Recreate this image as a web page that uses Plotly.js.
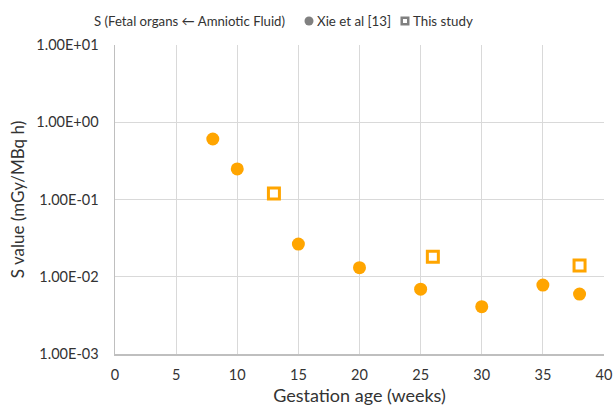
<!DOCTYPE html>
<html>
<head>
<meta charset="utf-8">
<script src="https://cdn.plot.ly/plotly-3.0.1.min.js"></script>
<style>html,body{margin:0;padding:0;background:#fff}#chart{width:616px;height:410px}</style>
</head>
<body>
<div id="chart"></div>
<script>
const xieWeeks = [8, 10, 15, 20, 25, 30, 35, 38];
const xieValues = [0.607, 0.249, 0.0265, 0.0131, 0.0069, 0.0041, 0.0078, 0.00596];
const studyWeeks = [13, 26, 38];
const studyValues = [0.12, 0.0181, 0.0140];
const yTickVals = [0.001, 0.01, 0.1, 1, 10];
const yTickText = ["1.00E-03", "1.00E-02", "1.00E-01", "1.00E+00", "1.00E+01"];
const xTickVals = [0, 5, 10, 15, 20, 25, 30, 35, 40];
const seriesNames = ["Xie et al [13]", "This study"];
const legendTitle = "S (Fetal organs \u2190 Amniotic Fluid)";

const orange = "#FFA500";
const legendGray = "#808080";
const textColor = "#333333";
const fontFam = "Lato, 'Open Sans', sans-serif";

const traces = [
  {x: xieWeeks, y: xieValues, type: "scatter", mode: "markers", name: seriesNames[0],
   marker: {symbol: "circle", size: 13, color: orange}},
  {x: studyWeeks, y: studyValues, type: "scatter", mode: "markers", name: seriesNames[1],
   marker: {symbol: "square-open", size: 11, color: orange, line: {width: 3, color: orange}}}
];

const legY = 1.0777;
const layout = {
  width: 616, height: 410,
  margin: {l: 115, r: 12, t: 45, b: 56},
  paper_bgcolor: "#fff", plot_bgcolor: "#fff",
  font: {family: fontFam, size: 13, color: textColor},
  showlegend: false,
  annotations: [
    {xref: "paper", yref: "paper", x: -0.047, y: legY, xanchor: "left", yanchor: "middle",
     text: legendTitle, showarrow: false, font: {family: fontFam, size: 13.2, color: textColor}},
    {xref: "paper", yref: "paper", x: 0.409, y: legY, xanchor: "left", yanchor: "middle",
     text: seriesNames[0], showarrow: false, font: {family: fontFam, size: 13.3, color: textColor}},
    {xref: "paper", yref: "paper", x: 0.6053, y: legY, xanchor: "left", yanchor: "middle",
     text: seriesNames[1], showarrow: false, font: {family: fontFam, size: 13.3, color: textColor}}
  ],
  shapes: [
    {type: "circle", xref: "paper", yref: "paper", xsizemode: "pixel", ysizemode: "pixel",
     xanchor: 0.3967, yanchor: legY, x0: -4.5, x1: 4.5, y0: -4.5, y1: 4.5,
     fillcolor: legendGray, line: {width: 0}},
    {type: "rect", xref: "paper", yref: "paper", xsizemode: "pixel", ysizemode: "pixel",
     xanchor: 0.5930, yanchor: legY, x0: -3.25, x1: 3.25, y0: -3.25, y1: 3.25,
     fillcolor: "#fff", line: {width: 2.5, color: legendGray}}
  ],
  xaxis: {
    range: [0, 40], tickvals: xTickVals, ticktext: xTickVals.map(String),
    showgrid: true, gridcolor: "#d9d9d9", gridwidth: 1,
    showline: true, linecolor: "#bfbfbf", linewidth: 1.5, zeroline: false,
    ticks: "", ticklabelstandoff: 7, tickfont: {family: fontFam, size: 14.5, color: textColor},
    title: {text: "Gestation age (weeks)", font: {family: fontFam, size: 18, color: textColor}, standoff: 7}
  },
  yaxis: {
    type: "log", range: [-3, 1], tickvals: yTickVals, ticktext: yTickText,
    showgrid: true, gridcolor: "#d9d9d9", gridwidth: 1,
    showline: true, linecolor: "#bfbfbf", linewidth: 1.5, zeroline: false,
    ticks: "", ticklabelstandoff: 12, tickfont: {family: fontFam, size: 14.5, color: textColor},
    title: {text: "S value (mGy/MBq h)", font: {family: fontFam, size: 17, color: textColor}, standoff: 7}
  }
};

Plotly.newPlot("chart", traces, layout, {displayModeBar: false, staticPlot: true});
</script>
</body>
</html>
